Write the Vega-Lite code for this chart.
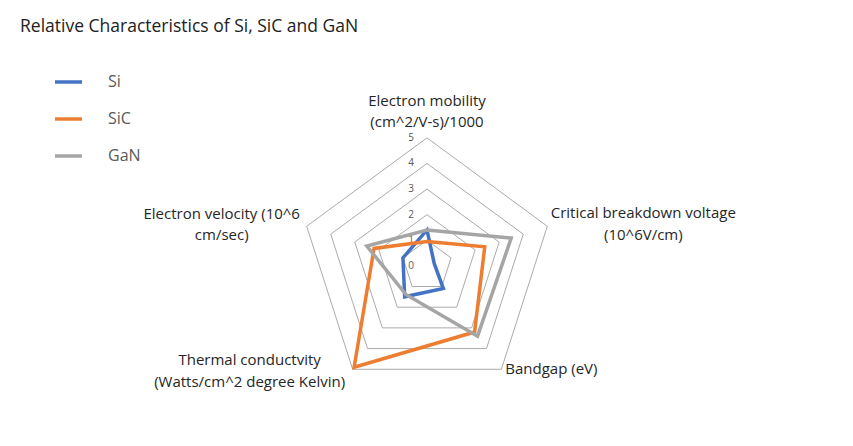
{
  "$schema": "https://vega.github.io/schema/vega-lite/v6.json",
  "width": 853,
  "height": 446,
  "autosize": {"type": "fit", "contains": "padding"},
  "padding": {"top": 17, "left": 0, "right": 0, "bottom": 0},
  "background": "white",
  "title": {"text": "Relative Characteristics of Si, SiC and GaN", "anchor": "start", "frame": "group", "dx": 20, "offset": 11, "font": "Open Sans", "fontSize": 17.5, "fontWeight": "normal", "color": "#222222"},
  "config": {"view": {"stroke": null}},
  "datasets": {
    "series": [
      {"series": "Si", "k": 0, "value": 1.4},
      {"series": "Si", "k": 1, "value": 0.3},
      {"series": "Si", "k": 2, "value": 1.1},
      {"series": "Si", "k": 3, "value": 1.5},
      {"series": "Si", "k": 4, "value": 1.0},
      {"series": "SiC", "k": 0, "value": 0.95},
      {"series": "SiC", "k": 1, "value": 2.4},
      {"series": "SiC", "k": 2, "value": 3.2},
      {"series": "SiC", "k": 3, "value": 4.9},
      {"series": "SiC", "k": 4, "value": 2.2},
      {"series": "GaN", "k": 0, "value": 1.4},
      {"series": "GaN", "k": 1, "value": 3.5},
      {"series": "GaN", "k": 2, "value": 3.4},
      {"series": "GaN", "k": 3, "value": 1.4},
      {"series": "GaN", "k": 4, "value": 2.5}
    ],
    "rings": [
      {"ring": 1, "k": [0, 1, 2, 3, 4]},
      {"ring": 2, "k": [0, 1, 2, 3, 4]},
      {"ring": 3, "k": [0, 1, 2, 3, 4]},
      {"ring": 4, "k": [0, 1, 2, 3, 4]},
      {"ring": 5, "k": [0, 1, 2, 3, 4]}
    ],
    "ticks": [
      {"ring": 0}, {"ring": 1}, {"ring": 2}, {"ring": 3}, {"ring": 4}, {"ring": 5}
    ],
    "labels": [
      {"k": 0, "label": ["Electron mobility", "(cm^2/V-s)/1000"]},
      {"k": 1, "label": ["Critical breakdown voltage", "(10^6V/cm)"]},
      {"k": 2, "label": ["Bandgap (eV)"]},
      {"k": 3, "label": ["Thermal conductvity", "(Watts/cm^2 degree Kelvin)"]},
      {"k": 4, "label": ["Electron velocity (10^6", "cm/sec)"]}
    ]
  },
  "layer": [
    {
      "data": {"name": "rings"},
      "transform": [
        {"flatten": ["k"]},
        {"calculate": "datum.ring*sin(datum.k*2*PI/5)", "as": "px"},
        {"calculate": "datum.ring*cos(datum.k*2*PI/5)", "as": "py"}
      ],
      "mark": {"type": "line", "interpolate": "linear-closed", "stroke": "#ABABAB", "strokeWidth": 1},
      "encoding": {
        "x": {"field": "px", "type": "quantitative", "scale": {"domain": [-16.877, 16.838], "nice": false, "zero": false}, "axis": null},
        "y": {"field": "py", "type": "quantitative", "scale": {"domain": [-7.044, 8.591], "nice": false, "zero": false}, "axis": null},
        "detail": {"field": "ring", "type": "nominal"},
        "order": {"field": "k", "type": "quantitative"}
      }
    },
    {
      "data": {"name": "ticks"},
      "mark": {"type": "text", "align": "right", "baseline": "middle", "dx": -13, "font": "Open Sans", "fontSize": 10, "color": "#595959"},
      "encoding": {
        "x": {"datum": 0, "type": "quantitative"},
        "y": {"field": "ring", "type": "quantitative"},
        "text": {"field": "ring", "type": "nominal"}
      }
    },
    {
      "data": {"name": "series"},
      "transform": [
        {"calculate": "datum.value*sin(datum.k*2*PI/5)", "as": "px"},
        {"calculate": "datum.value*cos(datum.k*2*PI/5)", "as": "py"}
      ],
      "mark": {"type": "line", "interpolate": "linear-closed", "strokeWidth": 3.5, "strokeJoin": "miter"},
      "encoding": {
        "x": {"field": "px", "type": "quantitative"},
        "y": {"field": "py", "type": "quantitative"},
        "order": {"field": "k", "type": "quantitative"},
        "color": {
          "field": "series", "type": "nominal",
          "scale": {"domain": ["Si", "SiC", "GaN"], "range": ["#4472C4", "#ED7D31", "#A5A5A5"]},
          "legend": {"title": null, "orient": "none", "legendX": 53, "legendY": 20.5, "symbolType": "stroke", "symbolSize": 729, "symbolStrokeWidth": 3.5, "labelFont": "Open Sans", "labelFontSize": 16, "labelColor": "#595959", "rowPadding": 13, "labelOffset": 24, "padding": 0}
        }
      }
    },
    {
      "data": {"name": "labels"},
      "transform": [
        {"filter": "datum.k == 0"},
        {"calculate": "5*sin(datum.k*2*PI/5)", "as": "px"},
        {"calculate": "5*cos(datum.k*2*PI/5)", "as": "py"}
      ],
      "mark": {"type": "text", "align": "center", "baseline": "middle", "dy": -37.3, "lineHeight": 21.5, "font": "Open Sans", "fontSize": 15, "color": "#262626"},
      "encoding": {"x": {"field": "px", "type": "quantitative"}, "y": {"field": "py", "type": "quantitative"}, "text": {"field": "label"}}
    },
    {
      "data": {"name": "labels"},
      "transform": [
        {"filter": "datum.k == 1"},
        {"calculate": "5*sin(datum.k*2*PI/5)", "as": "px"},
        {"calculate": "5*cos(datum.k*2*PI/5)", "as": "py"}
      ],
      "mark": {"type": "text", "align": "center", "baseline": "middle", "dx": 96, "dy": -13.2, "lineHeight": 21.5, "font": "Open Sans", "fontSize": 15, "color": "#262626"},
      "encoding": {"x": {"field": "px", "type": "quantitative"}, "y": {"field": "py", "type": "quantitative"}, "text": {"field": "label"}}
    },
    {
      "data": {"name": "labels"},
      "transform": [
        {"filter": "datum.k == 2"},
        {"calculate": "5*sin(datum.k*2*PI/5)", "as": "px"},
        {"calculate": "5*cos(datum.k*2*PI/5)", "as": "py"}
      ],
      "mark": {"type": "text", "align": "center", "baseline": "middle", "dx": 50, "dy": -0.7, "lineHeight": 21.5, "font": "Open Sans", "fontSize": 15, "color": "#262626"},
      "encoding": {"x": {"field": "px", "type": "quantitative"}, "y": {"field": "py", "type": "quantitative"}, "text": {"field": "label"}}
    },
    {
      "data": {"name": "labels"},
      "transform": [
        {"filter": "datum.k == 3"},
        {"calculate": "5*sin(datum.k*2*PI/5)", "as": "px"},
        {"calculate": "5*cos(datum.k*2*PI/5)", "as": "py"}
      ],
      "mark": {"type": "text", "align": "center", "baseline": "middle", "dx": -103, "dy": -9.2, "lineHeight": 21.5, "font": "Open Sans", "fontSize": 15, "color": "#262626"},
      "encoding": {"x": {"field": "px", "type": "quantitative"}, "y": {"field": "py", "type": "quantitative"}, "text": {"field": "label"}}
    },
    {
      "data": {"name": "labels"},
      "transform": [
        {"filter": "datum.k == 4"},
        {"calculate": "5*sin(datum.k*2*PI/5)", "as": "px"},
        {"calculate": "5*cos(datum.k*2*PI/5)", "as": "py"}
      ],
      "mark": {"type": "text", "align": "center", "baseline": "middle", "dx": -85, "dy": -12.7, "lineHeight": 21.5, "font": "Open Sans", "fontSize": 15, "color": "#262626"},
      "encoding": {"x": {"field": "px", "type": "quantitative"}, "y": {"field": "py", "type": "quantitative"}, "text": {"field": "label"}}
    }
  ]
}
